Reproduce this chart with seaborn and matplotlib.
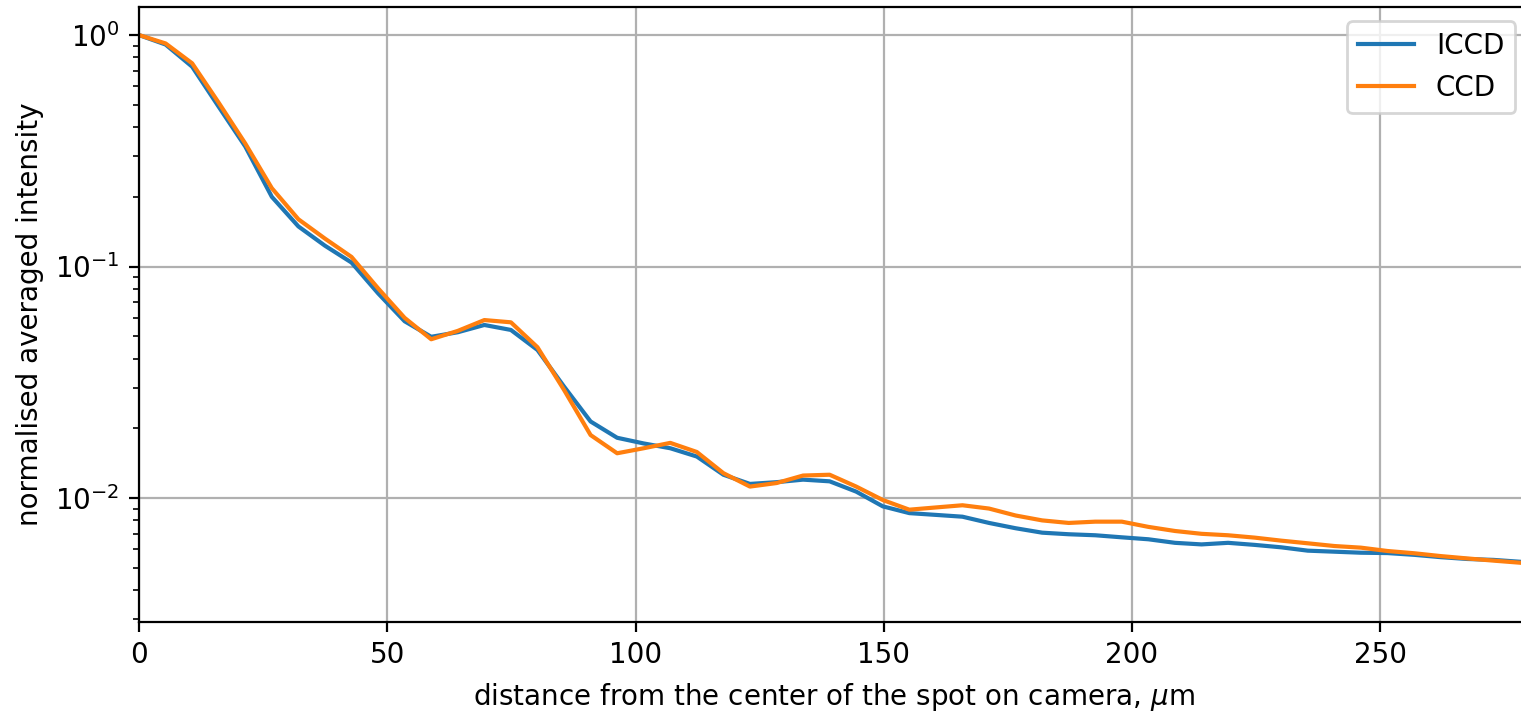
import numpy as np
import pandas as pd
import matplotlib
matplotlib.use("Agg")
import matplotlib.pyplot as plt
import seaborn as sns

# --- data (pixel pitch ~5.35 um) ---
distance_um = [
    0.0, 5.35, 10.7, 16.05, 21.4, 26.75, 32.1, 37.45, 42.8, 48.15,
    53.5, 58.85, 64.2, 69.55, 74.9, 80.25, 85.6, 90.95, 96.3, 101.65,
    107.0, 112.35, 117.7, 123.05, 128.4, 133.75, 139.1, 144.45, 149.8, 155.15,
    160.5, 165.85, 171.2, 176.55, 181.9, 187.25, 192.6, 197.95, 203.3, 208.65,
    214.0, 219.35, 224.7, 230.05, 235.4, 240.75, 246.1, 251.45, 256.8, 262.15,
    267.5, 272.85, 278.2, 283.55,
]

iccd = [
    1.0, 0.91, 0.73, 0.49, 0.33, 0.20, 0.149, 0.123, 0.104, 0.0766,
    0.058, 0.0497, 0.052, 0.0559, 0.0532, 0.0436, 0.0303, 0.0214, 0.0182, 0.0172,
    0.0164, 0.0151, 0.0126, 0.0115, 0.0117, 0.0120, 0.0118, 0.01065, 0.0092, 0.0086,
    0.00845, 0.0083, 0.0078, 0.0074, 0.00708, 0.00697, 0.0069, 0.00676, 0.00663, 0.0064,
    0.0063, 0.0064, 0.00627, 0.00612, 0.00592, 0.00586, 0.0058, 0.00578, 0.00568, 0.00555,
    0.00545, 0.0054, 0.0053, 0.0052,
]

ccd = [
    1.0, 0.92, 0.755, 0.51, 0.34, 0.218, 0.16, 0.132, 0.110, 0.0805,
    0.060, 0.0485, 0.0527, 0.0587, 0.0574, 0.0448, 0.0293, 0.0187, 0.0156, 0.0164,
    0.0173, 0.0158, 0.0128, 0.0112, 0.0116, 0.0125, 0.0126, 0.0112, 0.0098, 0.0089,
    0.0091, 0.0093, 0.0090, 0.0084, 0.0080, 0.0078, 0.0079, 0.0079, 0.0075, 0.0072,
    0.0070, 0.0069, 0.00674, 0.00654, 0.00637, 0.0062, 0.0061, 0.0059, 0.00577, 0.00561,
    0.00548, 0.00536, 0.00525, 0.0051,
]

df = pd.DataFrame({"distance": distance_um, "ICCD": iccd, "CCD": ccd})

DPI = 200
fig = plt.figure(figsize=(1521 / DPI, 715 / DPI), dpi=DPI)
ax = fig.add_axes([0.0914, 0.130, 0.914, 0.860])

colors = sns.color_palette("tab10")
sns.lineplot(data=df, x="distance", y="ICCD", ax=ax, color=colors[0], label="ICCD", lw=1.5)
sns.lineplot(data=df, x="distance", y="CCD", ax=ax, color=colors[1], label="CCD", lw=1.5)

ax.set_yscale("log")
ax.set_xlim(0, 280)
ax.set_ylim(0.00291, 1.32)
ax.grid(True, which="major", color="#b0b0b0", lw=0.8)
ax.set_xlabel(r"distance from the center of the spot on camera, $\mu$m")
ax.set_ylabel("normalised averaged intensity")
ax.legend(loc="upper right")

fig.savefig("out.png", dpi=DPI)
